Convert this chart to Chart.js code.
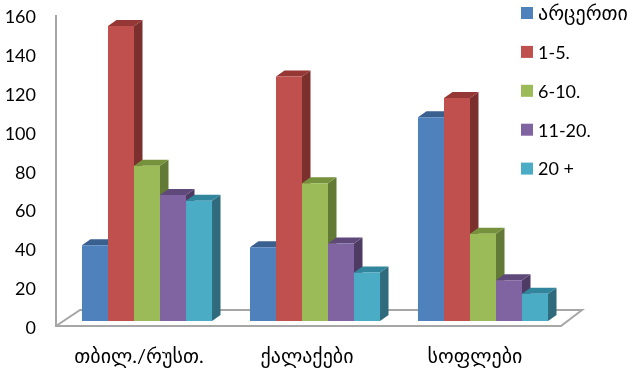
<!DOCTYPE html>
<html>
<head>
<meta charset="utf-8">
<style>
  html, body { margin: 0; padding: 0; background: #fff; }
  canvas { display: block; }
</style>
<script src="https://cdn.jsdelivr.net/npm/chart.js@4"></script>
</head>
<body>
<canvas id="chart" width="627" height="368"></canvas>
<script>
const categories = ['თბილ./რუსთ.', 'ქალაქები', 'სოფლები'];
const seriesNames = ['არცერთი', '1-5.', '6-10.', '11-20.', '20 +'];
const none = [39, 38, 105];
const oneToFive = [152, 126, 115];
const sixToTen = [80, 71, 45];
const elevenToTwenty = [65, 40, 21];
const overTwenty = [62, 25, 14];
const seriesValues = [none, oneToFive, sixToTen, elevenToTwenty, overTwenty];

const frontColors = ['#4f81bd', '#c0504d', '#9bbb59', '#8064a2', '#4bacc6'];
const topColors = ['#3a6090', '#953735', '#76923c', '#5f497a', '#31859c'];
const sideColors = ['#2f4e74', '#7b302e', '#637a36', '#4d3b63', '#2f6b7c'];
const legendFontSizes = [20, 18, 18, 18, 18];

const FONT = 'Lato, "DejaVu Sans", sans-serif';
const AXIS_COLOR = '#a6a6a6';
const DEPTH_X = 8.5;
const DEPTH_Y = 6;

function polygon(ctx, points, color) {
  ctx.fillStyle = color;
  ctx.beginPath();
  points.forEach((p, i) => (i ? ctx.lineTo(p[0], p[1]) : ctx.moveTo(p[0], p[1])));
  ctx.closePath();
  ctx.fill();
}

// floor and back wall edge, behind the columns
const floorPlugin = {
  id: 'floor',
  beforeDatasetsDraw(chart) {
    const { ctx, chartArea } = chart;
    const front = chartArea.bottom + 5;
    const back = chartArea.bottom - 11;
    ctx.save();
    ctx.strokeStyle = AXIS_COLOR;
    ctx.lineWidth = 2;
    ctx.beginPath();
    ctx.moveTo(56, 15);
    ctx.lineTo(56, front);
    ctx.lineTo(chartArea.right - 6, front);
    ctx.lineTo(chartArea.right + 15, back);
    ctx.lineTo(chartArea.left + 17, back);
    ctx.lineTo(56, front);
    ctx.stroke();
    ctx.restore();
  }
};

// side and top faces of every column; the fronts are painted over them afterwards
const depthPlugin = {
  id: 'depth',
  beforeDatasetsDraw(chart) {
    const { ctx } = chart;
    ctx.save();
    categories.forEach((_, c) => {
      seriesValues.forEach((_, s) => {
        const bar = chart.getDatasetMeta(s).data[c];
        const left = bar.x - bar.width / 2;
        const right = bar.x + bar.width / 2;
        polygon(ctx, [
          [right, bar.y], [right + DEPTH_X, bar.y - DEPTH_Y],
          [right + DEPTH_X, bar.base - DEPTH_Y], [right, bar.base]
        ], sideColors[s]);
        polygon(ctx, [
          [left, bar.y], [left + DEPTH_X, bar.y - DEPTH_Y],
          [right + DEPTH_X, bar.y - DEPTH_Y], [right, bar.y]
        ], topColors[s]);
      });
    });
    ctx.restore();
  }
};

// legend column in the top right corner, overlapping the plot area
const legendPlugin = {
  id: 'sideLegend',
  afterDraw(chart) {
    const { ctx } = chart;
    ctx.save();
    ctx.textBaseline = 'middle';
    chart.data.datasets.forEach((ds, i) => {
      const y = 13 + i * 38.9;
      ctx.fillStyle = ds.backgroundColor;
      ctx.fillRect(521, y - 6, 12, 12);
      ctx.fillStyle = '#000';
      ctx.font = legendFontSizes[i] + 'px ' + FONT;
      ctx.fillText(ds.label, 538, y + 1);
    });
    ctx.restore();
  }
};

new Chart(document.getElementById('chart'), {
  type: 'bar',
  data: {
    labels: categories,
    datasets: seriesNames.map((name, i) => ({
      label: name,
      data: seriesValues[i],
      backgroundColor: frontColors[i],
      barPercentage: 1,
      categoryPercentage: 0.774
    }))
  },
  options: {
    responsive: false,
    animation: false,
    layout: { autoPadding: false, padding: { top: 10.6, right: 60, bottom: 0, left: 0 } },
    plugins: {
      legend: { display: false },
      tooltip: { enabled: false }
    },
    scales: {
      x: {
        grid: { display: false, drawTicks: false },
        border: { display: false },
        afterFit(scale) { scale.height = 47; },
        ticks: {
          color: '#000',
          font: { family: FONT, size: 20 },
          padding: 24,
          labelOffset: -8,
          maxRotation: 0
        }
      },
      y: {
        min: 0,
        max: 160,
        // tick length stands in for label padding, which would eat into the plot height
        grid: { display: false, drawTicks: true, tickLength: 27 },
        border: { display: false },
        afterFit(scale) { scale.width = 63; },
        ticks: {
          color: '#000',
          font: { family: FONT, size: 18, lineHeight: 1.1 },
          stepSize: 20,
          padding: 0,
          labelOffset: 7
        }
      }
    }
  },
  plugins: [floorPlugin, depthPlugin, legendPlugin]
});
</script>
</body>
</html>
